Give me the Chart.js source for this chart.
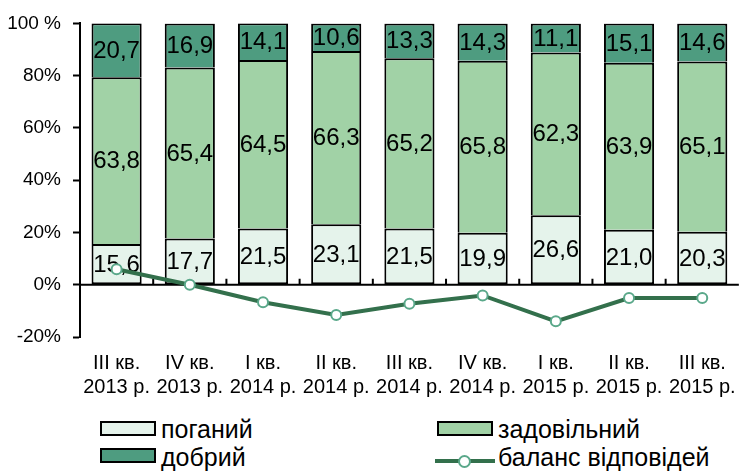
<!DOCTYPE html>
<html>
<head>
<meta charset="utf-8">
<script src="https://cdn.jsdelivr.net/npm/chart.js@4.4.1/dist/chart.umd.min.js"></script>
<style>
  html, body { margin: 0; padding: 0; background: #fff; }
  #wrap { position: relative; width: 750px; height: 474px; overflow: hidden; font-family: "Liberation Sans", Arial, sans-serif; }
  #c { position: absolute; left: 0; top: 0; }
  .lg { position: absolute; font-size: 25px; color: #000; line-height: 1; white-space: nowrap; }
  .box { position: absolute; width: 52px; height: 11px; border: 2px solid #000; }
  .ln { position: absolute; height: 4px; width: 60px; }
  .dot { position: absolute; width: 9px; height: 9px; border-radius: 50%; background: #fff; border: 2px solid #5aa88a; }
</style>
</head>
<body>
<div id="wrap">
  <canvas id="c" width="750" height="405"></canvas>
</div>
<script>
const categories = [
  ['III кв.', '2013 р.'], ['IV кв.', '2013 р.'], ['I кв.', '2014 р.'],
  ['II кв.', '2014 р.'], ['III кв.', '2014 р.'], ['IV кв.', '2014 р.'],
  ['I кв.', '2015 р.'], ['II кв.', '2015 р.'], ['III кв.', '2015 р.']
];
const bad = [15.6, 17.7, 21.5, 23.1, 21.5, 19.9, 26.6, 21.0, 20.3];
const satisfactory = [63.8, 65.4, 64.5, 66.3, 65.2, 65.8, 62.3, 63.9, 65.1];
const good = [20.7, 16.9, 14.1, 10.6, 13.3, 14.3, 11.1, 15.1, 14.6];
const balance = [5.9, 0.0, -6.7, -11.6, -7.3, -4.1, -14.0, -5.1, -5.1];
const yTickLabels = { '-20': '-20%', '0': '0%', '20': '20%', '40': '40%', '60': '60%', '80': '80%', '100': '100 %' };
const seriesNames = ['поганий', 'задовільний', 'добрий', 'баланс відповідей'];
const colors = { bad: '#e5f3eb', sat: '#a1d2a6', good: '#4e9c80', line: '#33704c', marker: '#5aa88a' };

const FONT = '"Liberation Sans", Arial, sans-serif';

const labelPlugin = {
  id: 'segLabels',
  afterDatasetDraw(chart, args) {
    const ds = chart.data.datasets[args.index];
    if (ds.type === 'line') return;
    const ctx = chart.ctx;
    ctx.save();
    ctx.font = '24px ' + FONT;
    ctx.fillStyle = '#000';
    ctx.textAlign = 'center';
    ctx.textBaseline = 'middle';
    args.meta.data.forEach((bar, i) => {
      const p = bar.getProps(['x', 'y', 'base'], true);
      ctx.fillText(ds.data[i].toFixed(1).replace('.', ','), p.x, (p.y + p.base) / 2 + 1);
    });
    ctx.restore();
  }
};

const zeroTicks = {
  id: 'zeroTicks',
  beforeDatasetsDraw(chart) {
    const ctx = chart.ctx, xs = chart.scales.x, ys = chart.scales.y;
    const y0 = ys.getPixelForValue(0);
    ctx.save();
    ctx.strokeStyle = '#000';
    ctx.lineWidth = 2;
    ctx.beginPath();
    ctx.moveTo(chart.chartArea.left, y0);
    ctx.lineTo(chart.chartArea.right, y0);
    for (let k = 1; k < categories.length; k++) {
      const x = (xs.getPixelForValue(k - 1) + xs.getPixelForValue(k)) / 2;
      ctx.moveTo(x, y0);
      ctx.lineTo(x, y0 - 6);
    }
    ctx.stroke();
    ctx.restore();
  }
};

new Chart(document.getElementById('c'), {
  data: {
    labels: categories,
    datasets: [
      { type: 'line', label: seriesNames[3], data: balance, stack: 'line', order: 0,
        borderColor: colors.line, borderWidth: 4, pointRadius: 5, pointBorderWidth: 2,
        pointBackgroundColor: '#fff', pointBorderColor: colors.marker, tension: 0, fill: false },
      { type: 'bar', label: seriesNames[0], data: bad, stack: 'bars', order: 1,
        backgroundColor: colors.bad, borderColor: '#000',
        borderWidth: { top: 2, bottom: 2, left: 2, right: 2 }, borderSkipped: false },
      { type: 'bar', label: seriesNames[1], data: satisfactory, stack: 'bars', order: 1,
        backgroundColor: colors.sat, borderColor: '#000',
        borderWidth: { top: 2, bottom: 0, left: 2, right: 2 }, borderSkipped: false },
      { type: 'bar', label: seriesNames[2], data: good, stack: 'bars', order: 1,
        backgroundColor: colors.good, borderColor: '#000',
        borderWidth: { top: 2, bottom: 0, left: 2, right: 2 }, borderSkipped: false }
    ]
  },
  options: {
    responsive: false,
    animation: false,
    layout: { padding: { top: 20, left: 0, right: 0, bottom: 0 } },
    datasets: { bar: { categoryPercentage: 1, barPercentage: 0.685 } },
    plugins: { legend: { display: false }, tooltip: { enabled: false } },
    scales: {
      x: {
        stacked: true,
        grid: { display: false, drawTicks: false },
        border: { display: false },
        ticks: { color: '#000', font: { family: FONT, size: 20, lineHeight: 1.2 }, padding: 14, maxRotation: 0, autoSkip: false },
        afterFit(s) { s.height = 68; }
      },
      y: {
        stacked: true,
        min: -20, max: 100,
        border: { display: true, color: '#000', width: 2 },
        grid: { drawOnChartArea: false, drawTicks: true, tickLength: 7, tickColor: '#000', tickWidth: 2 },
        ticks: { stepSize: 20, color: '#000', padding: 12, font: { family: FONT, size: 19 },
          callback: v => yTickLabels[String(v)] },
        afterFit(s) { s.width = 80; }
      }
    }
  },
  plugins: [zeroTicks, labelPlugin]
});

// HTML legend built from series names and colours
const wrap = document.getElementById('wrap');
function addBox(x, y, color) {
  const b = document.createElement('div'); b.className = 'box';
  b.style.left = x + 'px'; b.style.top = y + 'px'; b.style.background = color; wrap.appendChild(b);
}
function addText(x, y, t) {
  const d = document.createElement('div'); d.className = 'lg';
  d.style.left = x + 'px'; d.style.top = y + 'px'; d.textContent = t; wrap.appendChild(d);
}
addBox(100, 421, colors.bad); addText(161, 417, seriesNames[0]);
addBox(100, 448, colors.good); addText(161, 445, seriesNames[2]);
addBox(437, 421, colors.sat); addText(498, 417, seriesNames[1]);
const ln = document.createElement('div'); ln.className = 'ln';
ln.style.left = '435px'; ln.style.top = '459px'; ln.style.background = colors.line; wrap.appendChild(ln);
const dot = document.createElement('div'); dot.className = 'dot';
dot.style.left = '458px'; dot.style.top = '455px'; wrap.appendChild(dot);
addText(498, 445, seriesNames[3]);
</script>
</body>
</html>
